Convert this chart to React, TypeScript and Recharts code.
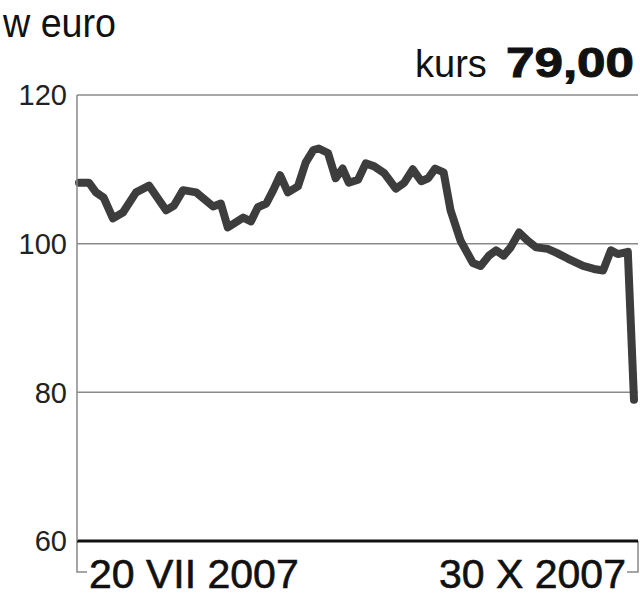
import { LineChart, Line, XAxis, YAxis, CartesianGrid, Customized } from "recharts";

// trading-day index (0 = 20 VII 2007, 72 = 30 X 2007) and price in euro
const days = [
  0, 1.3, 2.2, 3.2, 4.4, 5.7, 7.4, 9.1, 11.3, 12.3,
  13.5, 15.2, 17.4, 18.4, 19.3, 21.3, 22.3, 23.2, 24.3, 25.2,
  26.1, 27.1, 28.4, 29.4, 30.4, 31.1, 32.3, 33.3, 34.2, 35.0,
  36.2, 37.2, 38.3, 39.6, 41.1, 42.2, 43.3, 44.4, 45.3, 46.2,
  47.3, 48.2, 49.5, 51.1, 52.1, 53.2, 54.1, 55.1, 56.0, 57.1,
  58.2, 59.3, 60.8, 61.9, 63.4, 65.4, 66.8, 68.0, 69.0, 69.9,
  71.2, 72,
];
const prices = [
  108.2, 108.2, 106.9, 106.2, 103.4, 104.2, 106.9, 107.8, 104.5, 105.1,
  107.2, 106.9, 105.0, 105.4, 102.2, 103.5, 103.0, 104.9, 105.4, 107.2,
  109.2, 106.9, 107.7, 110.9, 112.6, 112.8, 112.2, 108.8, 110.1, 108.2,
  108.6, 110.8, 110.4, 109.5, 107.4, 108.2, 110.0, 108.4, 108.8, 110.1,
  109.6, 104.5, 100.4, 97.4, 97.0, 98.4, 99.1, 98.4, 99.5, 101.5,
  100.4, 99.5, 99.3, 98.8, 98.0, 97.0, 96.6, 96.4, 99.1, 98.6,
  98.9, 79.0,
];
const yTicks = [60, 80, 100, 120];
const xTicks = [0, 72];
const xLabels = ["20 VII 2007", "30 X 2007"];

const unitLabel = "w euro";
const kursLabel = "kurs";
const kursValue = "79,00";

const chartData = days.map((d, i) => ({ day: d, price: prices[i] }));

const FONT = "'Liberation Sans', Arial, sans-serif";

// Date labels: first hangs to the right of its tick, last to the left
const DateTick = ({ x, y, payload }: any) => {
  const first = payload.value === xTicks[0];
  const label = xLabels[xTicks.indexOf(payload.value)];
  return (
    <text
      x={first ? x + 10 : x - 8}
      y={y}
      dy={39}
      textAnchor={first ? "start" : "end"}
      fontFamily={FONT}
      fontSize={41}
      fill="#111"
      stroke="#111"
      strokeWidth={0.6}
    >
      {label}
    </text>
  );
};

// Header texts and the bracket under the axis
const Decorations = () => (
  <g>
    <text x={3} y={37} fontFamily={FONT} fontSize={40} fill="#111" textLength={113} lengthAdjust="spacingAndGlyphs">
      {unitLabel}
    </text>
    <text x={415} y={77} fontFamily={FONT} fontSize={38} fill="#111">
      {kursLabel}
    </text>
    <text
      x={506}
      y={77}
      fontFamily={FONT}
      fontSize={42}
      fontWeight="bold"
      fill="#111"
      stroke="#111"
      strokeWidth={1}
      textLength={128}
      lengthAdjust="spacingAndGlyphs"
    >
      {kursValue}
    </text>
    <polyline points="77,541 77,572 87,572" fill="none" stroke="#888" strokeWidth={1.5} />
    <polyline points="638,541 638,572 627,572" fill="none" stroke="#888" strokeWidth={1.5} />
  </g>
);

export default function App() {
  return (
    <div style={{ position: "absolute", left: 0, top: 0, background: "#fff" }}>
      <LineChart
        width={640}
        height={598}
        data={chartData}
        margin={{ top: 95, right: 2, left: 17, bottom: 0 }}
      >
        <CartesianGrid vertical={false} stroke="#8a8a8a" strokeWidth={1.5} />
        <XAxis
          dataKey="day"
          type="number"
          domain={[-0.26, 72.52]}
          ticks={xTicks}
          tick={<DateTick />}
          tickLine={false}
          axisLine={{ stroke: "#111", strokeWidth: 3 }}
          height={57}
          interval={0}
        />
        <YAxis
          domain={[60, 120]}
          ticks={yTicks}
          width={60}
          tickLine={false}
          tickSize={8}
          tickMargin={2}
          axisLine={{ stroke: "#888", strokeWidth: 1.5 }}
          tick={{ fontFamily: FONT, fontSize: 29, fill: "#222" }}
        />
        <Line
          type="linear"
          dataKey="price"
          stroke="#3d3d3d"
          strokeWidth={8}
          strokeLinejoin="round"
          strokeLinecap="round"
          dot={false}
          isAnimationActive={false}
        />
        <Customized component={<Decorations />} />
      </LineChart>
    </div>
  );
}
